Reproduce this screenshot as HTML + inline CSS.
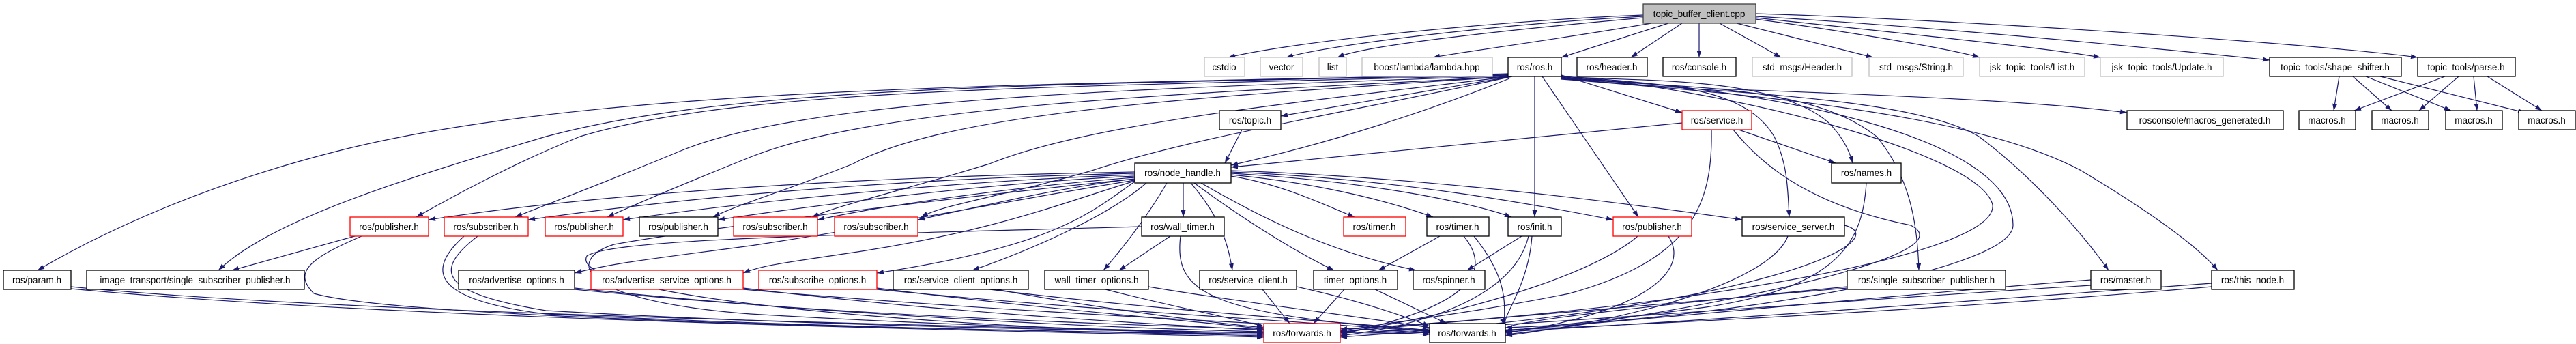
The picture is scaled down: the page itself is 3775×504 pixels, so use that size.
<!DOCTYPE html>
<html><head><meta charset="utf-8"><style>
html,body{margin:0;padding:0;background:#fff;width:3775px;height:504px;overflow:hidden}
svg text{font-family:"Liberation Sans",sans-serif;font-size:13.5px;fill:#000;text-anchor:middle}
.e{fill:none;stroke:#191970;stroke-width:1.2;marker-end:url(#a)}
.b{fill:#fff;stroke:#000;stroke-width:1.3}
.g{fill:#fff;stroke:#bfbfbf;stroke-width:1.3}
.r{fill:#fff;stroke:#ff0000;stroke-width:1.3}
</style></head><body>
<svg width="3775" height="504" xmlns="http://www.w3.org/2000/svg">
<defs><marker id="a" markerUnits="userSpaceOnUse" markerWidth="11" markerHeight="8" refX="10" refY="3.5" orient="auto"><path d="M0,0 L10,3.5 L0,7 z" fill="#191970"/></marker></defs>
<g>
<path class="e" d="M2408,22 C2200,30 1900,60 1800,84"/>
<path class="e" d="M2408,24 C2200,35 1950,65 1885,84"/>
<path class="e" d="M2408,26 C2250,40 2000,65 1960,84"/>
<path class="e" d="M2420,34 C2300,55 2150,75 2100,84"/>
<path class="e" d="M2445,34 L2288,84"/>
<path class="e" d="M2465,34 L2390,84"/>
<path class="e" d="M2490,34 L2490,84"/>
<path class="e" d="M2520,34 L2610,84"/>
<path class="e" d="M2545,34 L2745,84"/>
<path class="e" d="M2573,28 C2700,45 2850,70 2901,84"/>
<path class="e" d="M2573,26 C2750,45 3000,70 3078,84"/>
<path class="e" d="M2573,24 C2850,40 3200,75 3326,88"/>
<path class="e" d="M2573,20 C2900,30 3400,65 3543,84"/>
<path class="e" d="M3428,112 L3420,162"/>
<path class="e" d="M3448,112 L3505,162"/>
<path class="e" d="M3467,112 L3592,162"/>
<path class="e" d="M3488,112 L3700,165"/>
<path class="e" d="M3583,112 L3450,162"/>
<path class="e" d="M3603,112 L3545,162"/>
<path class="e" d="M3625,112 L3630,162"/>
<path class="e" d="M3645,112 L3725,162"/>
<path class="e" d="M2210,108 C1600,125 900,120 500,220 C300,270 150,340 55,396"/>
<path class="e" d="M2210,109 C1600,125 1100,120 800,200 C600,260 400,320 320,396"/>
<path class="e" d="M2210,110 C1600,128 1100,125 850,200 C750,240 660,290 610,318"/>
<path class="e" d="M2210,111 C1700,130 1200,140 1000,220 C880,270 800,300 755,318"/>
<path class="e" d="M2210,112 C1800,135 1300,150 1100,230 C1000,270 930,300 890,318"/>
<path class="e" d="M2212,112 C1800,140 1400,160 1250,240 C1150,280 1080,300 1045,318"/>
<path class="e" d="M2214,112 C1900,150 1600,180 1450,240 C1320,280 1230,300 1190,318"/>
<path class="e" d="M2216,112 C2000,160 1750,200 1600,250 C1460,290 1380,300 1350,318"/>
<path class="e" d="M2210,113 L1877,170"/>
<path class="e" d="M2212,115 C2100,160 1950,210 1804,242"/>
<path class="e" d="M2249,112 L2249,318"/>
<path class="e" d="M2260,112 L2401,318"/>
<path class="e" d="M2288,110 L2465,165"/>
<path class="e" d="M2288,112 C2400,120 2600,110 2680,180 C2700,200 2710,220 2715,239"/>
<path class="e" d="M2288,113 C2400,125 2550,115 2600,200 C2620,240 2620,280 2622,318"/>
<path class="e" d="M2288,114 C2450,130 2650,120 2750,200 C2800,260 2810,330 2812,396"/>
<path class="e" d="M2288,115 C2500,135 2800,140 2900,200 C2980,260 3050,340 3090,396"/>
<path class="e" d="M2288,116 C2600,140 2900,170 3050,250 C3150,310 3220,360 3250,396"/>
<path class="e" d="M2510,130 C2800,140 3000,150 3117,165"/>
<path class="e" d="M1820,190 L1795,239"/>
<path class="e" d="M2465,180 L1804,245"/>
<path class="e" d="M2548,190 L2690,239"/>
<path class="e" d="M2540,190 C2580,240 2650,300 2800,330 C2900,380 2400,470 2206,490"/>
<path class="e" d="M2508,190 C2510,300 2480,380 2300,430 C2150,460 2050,470 1964,485"/>
<path class="e" d="M2735,268 C2730,350 2700,420 2500,450 C2350,470 2250,480 2206,485"/>
<path class="e" d="M1663,252 C1300,258 900,280 628,322"/>
<path class="e" d="M1663,254 C1300,262 1000,290 774,322"/>
<path class="e" d="M1663,256 C1400,265 1100,295 913,322"/>
<path class="e" d="M1663,258 C1450,268 1200,300 1052,322"/>
<path class="e" d="M1663,260 C1500,272 1300,300 1198,322"/>
<path class="e" d="M1663,262 C1550,275 1450,300 1345,322"/>
<path class="e" d="M1734,268 L1734,318"/>
<path class="e" d="M1804,258 C1880,270 1940,300 1985,318"/>
<path class="e" d="M1804,256 C1950,270 2050,300 2100,318"/>
<path class="e" d="M1804,254 C2000,265 2150,295 2215,318"/>
<path class="e" d="M1804,252 C2050,262 2250,300 2364,322"/>
<path class="e" d="M1804,250 C2100,260 2400,300 2553,322"/>
<path class="e" d="M1663,264 C1500,290 1300,330 1100,360 C950,380 900,385 842,400"/>
<path class="e" d="M1663,265 C1550,300 1450,340 1250,370 C1150,385 1120,388 1089,400"/>
<path class="e" d="M1663,266 C1600,310 1550,360 1285,400"/>
<path class="e" d="M1680,268 C1620,320 1500,370 1425,396"/>
<path class="e" d="M1710,268 C1680,320 1640,370 1617,396"/>
<path class="e" d="M1745,268 C1790,320 1800,360 1806,396"/>
<path class="e" d="M1750,268 C1820,320 1900,370 1955,396"/>
<path class="e" d="M1760,268 C1850,320 1950,370 2075,396"/>
<path class="e" d="M1715,346 L1640,396"/>
<path class="e" d="M1673,332 C1200,345 900,350 860,375 C830,430 1300,480 1852,490"/>
<path class="e" d="M1663,262 C1300,300 1000,340 900,358 C830,380 840,440 1100,460 C1400,478 1700,485 1852,488"/>
<path class="e" d="M1730,346 C1720,430 1770,460 2095,485"/>
<path class="e" d="M2110,346 L2020,396"/>
<path class="e" d="M2230,346 L2150,396"/>
<path class="e" d="M2160,346 C2220,420 2200,460 2206,478"/>
<path class="e" d="M2145,346 C2190,400 2150,450 1964,490"/>
<path class="e" d="M2245,346 C2240,420 2200,465 2206,476"/>
<path class="e" d="M2240,346 C2220,430 2100,475 1964,492"/>
<path class="e" d="M2400,346 C2350,390 2200,450 1964,488"/>
<path class="e" d="M2445,346 C2480,400 2400,460 2206,488"/>
<path class="e" d="M2620,346 C2600,400 2450,460 2206,492"/>
<path class="e" d="M2703,330 C2780,350 2600,450 1964,494"/>
<path class="e" d="M530,346 C450,380 430,400 460,430 C600,470 1500,485 1852,490"/>
<path class="e" d="M680,346 C620,400 640,440 800,460 C1200,480 1600,486 1852,492"/>
<path class="e" d="M700,346 C630,400 650,430 800,455 C1200,478 1600,484 1852,488"/>
<path class="e" d="M104,420 C500,460 1500,480 1852,488"/>
<path class="e" d="M104,423 C600,470 1500,485 1852,494"/>
<path class="e" d="M842,422 C1200,460 1600,480 1852,486"/>
<path class="e" d="M842,424 C1300,470 1800,480 2095,490"/>
<path class="e" d="M1089,422 C1400,460 1700,475 1852,484"/>
<path class="e" d="M1089,424 C1500,460 1900,475 2095,488"/>
<path class="e" d="M1285,422 C1500,450 1750,470 1852,482"/>
<path class="e" d="M1285,424 C1600,455 1900,470 2095,486"/>
<path class="e" d="M1460,424 C1600,450 1750,470 1852,480"/>
<path class="e" d="M1450,424 C1700,455 1950,470 2095,484"/>
<path class="e" d="M1620,424 C1700,445 1800,465 1852,478"/>
<path class="e" d="M1683,420 C1800,440 2000,465 2095,480"/>
<path class="e" d="M1850,424 L1890,474"/>
<path class="e" d="M1900,420 C1990,440 2050,460 2095,478"/>
<path class="e" d="M1970,424 L1925,474"/>
<path class="e" d="M2015,424 L2120,474"/>
<path class="e" d="M2707,420 C2500,440 2200,470 2206,482"/>
<path class="e" d="M2707,422 C2400,450 2100,475 1964,486"/>
<path class="e" d="M3064,410 C2800,430 2400,470 2206,484"/>
<path class="e" d="M3064,418 C2700,440 2200,480 1964,488"/>
<path class="e" d="M3241,415 C2900,440 2500,470 2206,486"/>
<path class="e" d="M3241,420 C2900,450 2300,485 1964,490"/>
<path class="e" d="M2288,112 C2600,130 2950,200 2950,330 C2950,400 2500,470 2206,480"/>
<path class="e" d="M2288,112 C2500,125 2900,220 2920,300 C2930,380 2400,460 1964,482"/>
<path class="e" d="M520,346 L340,396"/>
</g>
<g>
<rect class="g" x="2408" y="6" width="165" height="28" style="fill:#bfbfbf;stroke:#404040"/><text x="2490" y="25">topic_buffer_client.cpp</text>
<rect class="g" x="1765" y="84" width="59" height="28"/><text x="1794" y="103">cstdio</text>
<rect class="g" x="1847" y="84" width="62" height="28"/><text x="1878" y="103">vector</text>
<rect class="g" x="1933" y="84" width="40" height="28"/><text x="1953" y="103">list</text>
<rect class="g" x="1996" y="84" width="191" height="28"/><text x="2091" y="103">boost/lambda/lambda.hpp</text>
<rect class="b" x="2210" y="84" width="78" height="28"/><text x="2249" y="103">ros/ros.h</text>
<rect class="b" x="2311" y="84" width="103" height="28"/><text x="2362" y="103">ros/header.h</text>
<rect class="b" x="2437" y="84" width="107" height="28"/><text x="2490" y="103">ros/console.h</text>
<rect class="g" x="2568" y="84" width="146" height="28"/><text x="2641" y="103">std_msgs/Header.h</text>
<rect class="g" x="2739" y="84" width="138" height="28"/><text x="2808" y="103">std_msgs/String.h</text>
<rect class="g" x="2901" y="84" width="154" height="28"/><text x="2978" y="103">jsk_topic_tools/List.h</text>
<rect class="g" x="3078" y="84" width="180" height="28"/><text x="3168" y="103">jsk_topic_tools/Update.h</text>
<rect class="b" x="3326" y="84" width="193" height="28"/><text x="3422" y="103">topic_tools/shape_shifter.h</text>
<rect class="b" x="3543" y="84" width="143" height="28"/><text x="3614" y="103">topic_tools/parse.h</text>
<rect class="b" x="1787" y="162" width="90" height="28"/><text x="1832" y="181">ros/topic.h</text>
<rect class="r" x="2465" y="162" width="102" height="28"/><text x="2516" y="181">ros/service.h</text>
<rect class="b" x="3117" y="162" width="229" height="28"/><text x="3231" y="181">rosconsole/macros_generated.h</text>
<rect class="b" x="3369" y="162" width="83" height="28"/><text x="3410" y="181">macros.h</text>
<rect class="b" x="3476" y="162" width="83" height="28"/><text x="3517" y="181">macros.h</text>
<rect class="b" x="3584" y="162" width="83" height="28"/><text x="3625" y="181">macros.h</text>
<rect class="b" x="3691" y="162" width="83" height="28"/><text x="3732" y="181">macros.h</text>
<rect class="b" x="1663" y="239" width="141" height="29"/><text x="1733" y="258">ros/node_handle.h</text>
<rect class="b" x="2684" y="239" width="102" height="29"/><text x="2735" y="258">ros/names.h</text>
<rect class="r" x="513" y="318" width="115" height="28"/><text x="570" y="337">ros/publisher.h</text>
<rect class="r" x="651" y="318" width="123" height="28"/><text x="712" y="337">ros/subscriber.h</text>
<rect class="r" x="799" y="318" width="114" height="28"/><text x="856" y="337">ros/publisher.h</text>
<rect class="b" x="937" y="318" width="115" height="28"/><text x="994" y="337">ros/publisher.h</text>
<rect class="r" x="1075" y="318" width="123" height="28"/><text x="1136" y="337">ros/subscriber.h</text>
<rect class="r" x="1223" y="318" width="122" height="28"/><text x="1284" y="337">ros/subscriber.h</text>
<rect class="b" x="1673" y="318" width="121" height="28"/><text x="1733" y="337">ros/wall_timer.h</text>
<rect class="r" x="1969" y="318" width="91" height="28"/><text x="2014" y="337">ros/timer.h</text>
<rect class="b" x="2091" y="318" width="91" height="28"/><text x="2136" y="337">ros/timer.h</text>
<rect class="b" x="2210" y="318" width="78" height="28"/><text x="2249" y="337">ros/init.h</text>
<rect class="r" x="2364" y="318" width="115" height="28"/><text x="2421" y="337">ros/publisher.h</text>
<rect class="b" x="2553" y="318" width="150" height="28"/><text x="2628" y="337">ros/service_server.h</text>
<rect class="b" x="5" y="396" width="99" height="28"/><text x="54" y="415">ros/param.h</text>
<rect class="b" x="127" y="396" width="319" height="28"/><text x="286" y="415">image_transport/single_subscriber_publisher.h</text>
<rect class="b" x="672" y="396" width="170" height="28"/><text x="757" y="415">ros/advertise_options.h</text>
<rect class="r" x="866" y="396" width="223" height="28"/><text x="977" y="415">ros/advertise_service_options.h</text>
<rect class="r" x="1112" y="396" width="173" height="28"/><text x="1198" y="415">ros/subscribe_options.h</text>
<rect class="b" x="1309" y="396" width="198" height="28"/><text x="1408" y="415">ros/service_client_options.h</text>
<rect class="b" x="1531" y="396" width="152" height="28"/><text x="1607" y="415">wall_timer_options.h</text>
<rect class="b" x="1758" y="396" width="142" height="28"/><text x="1829" y="415">ros/service_client.h</text>
<rect class="b" x="1925" y="396" width="123" height="28"/><text x="1986" y="415">timer_options.h</text>
<rect class="b" x="2071" y="396" width="105" height="28"/><text x="2123" y="415">ros/spinner.h</text>
<rect class="b" x="2707" y="396" width="232" height="28"/><text x="2823" y="415">ros/single_subscriber_publisher.h</text>
<rect class="b" x="3064" y="396" width="103" height="28"/><text x="3115" y="415">ros/master.h</text>
<rect class="b" x="3241" y="396" width="121" height="28"/><text x="3301" y="415">ros/this_node.h</text>
<rect class="r" x="1852" y="474" width="112" height="28"/><text x="1908" y="493">ros/forwards.h</text>
<rect class="b" x="2095" y="474" width="111" height="28"/><text x="2150" y="493">ros/forwards.h</text>
</g>
</svg>
</body></html>
